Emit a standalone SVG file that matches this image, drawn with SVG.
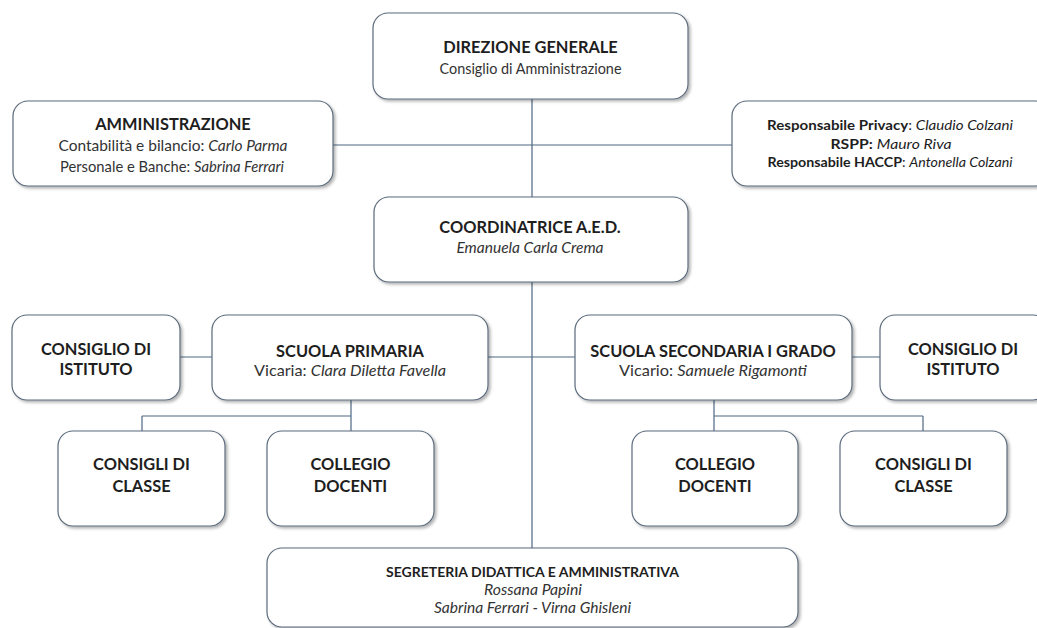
<svg xmlns="http://www.w3.org/2000/svg" width="1037" height="628" viewBox="0 0 1037 628">
<defs>
<filter id="sh" x="-10%" y="-10%" width="130%" height="130%">
<feDropShadow dx="2" dy="2" stdDeviation="1.5" flood-color="#000" flood-opacity="0.3"/>
</filter>
<style>
.box{fill:#fff;stroke:#5b6b7c;stroke-width:1.2;filter:url(#sh)}
.ln{fill:none;stroke:#4d6883;stroke-width:1.2}
text{font-family:Lato,"Open Sans","Liberation Sans",sans-serif;text-anchor:middle;fill:#1e1e1e}
.t{font-weight:bold;font-size:16.4px}
.s{font-size:15px;fill:#333}
.r{font-size:13.8px;fill:#1e1e1e}
.b{font-weight:bold}
.i{font-style:italic}
</style>
</defs>
<rect width="1037" height="628" fill="#fff"/>
<g id="connectors">
<path class="ln" d="M532 99V197M333 145H732M532 282V548M180 357H212M488 357H575M852 357H880"/>
<path class="ln" d="M351 400V416M142 416H351M142 416V431M351 416V431"/>
<path class="ln" d="M714 400V431M714 416H923M923 416V431"/>
</g>
<g id="direzione">
<rect class="box" x="373" y="13" width="315" height="86" rx="15"/>
<text class="t" x="530.5" y="53">DIREZIONE GENERALE</text>
<text class="s" x="530.5" y="74" textLength="182" lengthAdjust="spacingAndGlyphs">Consiglio di Amministrazione</text>
</g>
<g id="amministrazione">
<rect class="box" x="13" y="101" width="320" height="85" rx="15"/>
<text class="t" x="173" y="130">AMMINISTRAZIONE</text>
<text class="s" x="173" y="151" textLength="229" lengthAdjust="spacingAndGlyphs">Contabilità e bilancio: <tspan class="i">Carlo Parma</tspan></text>
<text class="s" x="172" y="172" textLength="224" lengthAdjust="spacingAndGlyphs">Personale e Banche: <tspan class="i">Sabrina Ferrari</tspan></text>
</g>
<g id="responsabili">
<rect class="box" x="732" y="101" width="318" height="85" rx="15"/>
<text class="r" x="890" y="130" textLength="246" lengthAdjust="spacingAndGlyphs"><tspan class="b">Responsabile Privacy</tspan>: <tspan class="i">Claudio Colzani</tspan></text>
<text class="r" x="891" y="148.5" textLength="121" lengthAdjust="spacingAndGlyphs"><tspan class="b">RSPP:</tspan> <tspan class="i">Mauro Riva</tspan></text>
<text class="r" x="890" y="167" textLength="245" lengthAdjust="spacingAndGlyphs"><tspan class="b">Responsabile HACCP</tspan>: <tspan class="i">Antonella Colzani</tspan></text>
</g>
<g id="coordinatrice">
<rect class="box" x="374" y="197" width="314" height="85" rx="15"/>
<text class="t" x="530" y="233">COORDINATRICE A.E.D.</text>
<text class="s i" x="530" y="253" textLength="147" lengthAdjust="spacingAndGlyphs">Emanuela Carla Crema</text>
</g>
<g id="cdi-sx">
<rect class="box" x="12" y="315" width="168" height="85" rx="15"/>
<text class="t" x="96" y="355">CONSIGLIO DI</text>
<text class="t" x="96" y="375">ISTITUTO</text>
</g>
<g id="primaria">
<rect class="box" x="212" y="315" width="276" height="85" rx="15"/>
<text class="t" x="350" y="357">SCUOLA PRIMARIA</text>
<text class="s" x="350" y="376" textLength="192" lengthAdjust="spacingAndGlyphs">Vicaria: <tspan class="i">Clara Diletta Favella</tspan></text>
</g>
<g id="secondaria">
<rect class="box" x="575" y="315" width="277" height="85" rx="15"/>
<text class="t" x="713" y="357">SCUOLA SECONDARIA I GRADO</text>
<text class="s" x="713" y="376" textLength="188" lengthAdjust="spacingAndGlyphs">Vicario: <tspan class="i">Samuele Rigamonti</tspan></text>
</g>
<g id="cdi-dx">
<rect class="box" x="880" y="315" width="168" height="85" rx="15"/>
<text class="t" x="963" y="355">CONSIGLIO DI</text>
<text class="t" x="963" y="375">ISTITUTO</text>
</g>
<g id="classe-sx">
<rect class="box" x="58" y="431" width="167" height="95" rx="15"/>
<text class="t" x="141.5" y="470">CONSIGLI DI</text>
<text class="t" x="141.5" y="492">CLASSE</text>
</g>
<g id="collegio-sx">
<rect class="box" x="267" y="431" width="167" height="95" rx="15"/>
<text class="t" x="350.5" y="470">COLLEGIO</text>
<text class="t" x="350.5" y="492">DOCENTI</text>
</g>
<g id="collegio-dx">
<rect class="box" x="632" y="431" width="166" height="95" rx="15"/>
<text class="t" x="715" y="470">COLLEGIO</text>
<text class="t" x="715" y="492">DOCENTI</text>
</g>
<g id="classe-dx">
<rect class="box" x="840" y="431" width="167" height="95" rx="15"/>
<text class="t" x="923.5" y="470">CONSIGLI DI</text>
<text class="t" x="923.5" y="492">CLASSE</text>
</g>
<g id="segreteria">
<rect class="box" x="267" y="548" width="531" height="79" rx="15"/>
<text class="b" x="532.5" y="577" font-size="14">SEGRETERIA DIDATTICA E AMMINISTRATIVA</text>
<text class="s i" x="533" y="595" textLength="98" lengthAdjust="spacingAndGlyphs">Rossana Papini</text>
<text class="s i" x="532.5" y="613" textLength="197" lengthAdjust="spacingAndGlyphs">Sabrina Ferrari - Virna Ghisleni</text>
</g>
</svg>
